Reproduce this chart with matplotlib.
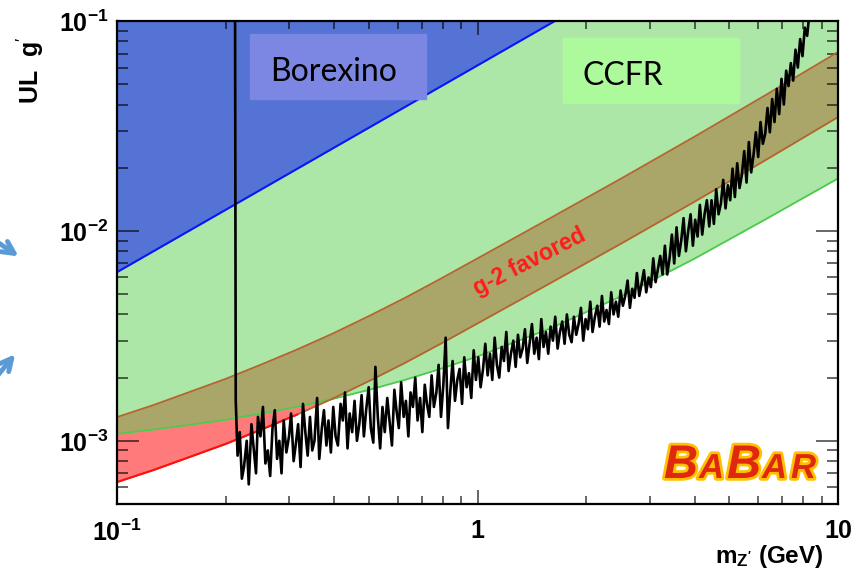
import numpy as np
import matplotlib
matplotlib.use("Agg")
import matplotlib.pyplot as plt
import matplotlib.patheffects as pe
from matplotlib.patches import Rectangle, FancyArrowPatch
from matplotlib.ticker import LogLocator, NullFormatter

plt.rcParams['mathtext.fontset'] = 'custom'
plt.rcParams['mathtext.rm'] = 'Liberation Sans'
plt.rcParams['mathtext.bf'] = 'Liberation Sans:bold'
plt.rcParams['mathtext.it'] = 'Liberation Sans:italic'

# ---- limit curves (mass in GeV, coupling g') ----
mass = [0.1, 0.126, 0.158, 0.2, 0.251, 0.316, 0.398, 0.501, 0.631, 0.794, 1,
        1.585, 2.512, 3.981, 6.31, 10]
g2_upper = [1.297e-3, 1.479e-3, 1.702e-3, 1.972e-3, 2.307e-3, 2.723e-3, 3.251e-3, 3.936e-3,
            4.808e-3, 5.943e-3, 7.396e-3, 1.146e-2, 1.782e-2, 2.799e-2, 4.446e-2, 7.112e-2]
g2_lower = [6.36e-4, 7.25e-4, 8.34e-4, 9.66e-4, 1.130e-3, 1.334e-3, 1.593e-3, 1.929e-3,
            2.356e-3, 2.912e-3, 3.624e-3, 5.615e-3, 8.73e-3, 1.371e-2, 2.179e-2, 3.485e-2]
ccfr = [1.079e-3, 1.130e-3, 1.189e-3, 1.259e-3, 1.346e-3, 1.452e-3, 1.585e-3, 1.750e-3,
        1.954e-3, 2.208e-3, 2.523e-3, 3.420e-3, 4.898e-3, 7.345e-3, 1.138e-2, 1.778e-2]
borexino_m = [0.1, 1.64]
borexino_g = [6.36e-3, 0.1]

# ---- BaBar upper limit scan (g' in units of 1e-3) ----
babar_m = [
    0.2125, 0.2135, 0.216, 0.219, 0.222, 0.225, 0.229, 0.232, 0.236, 0.239, 0.243, 0.246, 0.25,
    0.254, 0.258, 0.262, 0.266, 0.27, 0.274, 0.278, 0.282, 0.286, 0.29, 0.295, 0.3,
    0.304, 0.309, 0.313, 0.318, 0.323, 0.328, 0.333, 0.338, 0.343, 0.348,
    0.353, 0.359, 0.364, 0.37, 0.375, 0.381, 0.386, 0.392, 0.398, 0.404,
    0.41, 0.417, 0.423, 0.429, 0.436, 0.442, 0.449, 0.456, 0.463, 0.47,
    0.477, 0.484, 0.491, 0.499, 0.506, 0.514, 0.521, 0.529, 0.537, 0.545,
    0.553, 0.562, 0.57, 0.579, 0.588, 0.596, 0.605, 0.614, 0.624, 0.633,
    0.643, 0.652, 0.662, 0.672, 0.682, 0.693, 0.703, 0.714, 0.724, 0.735,
    0.746, 0.757, 0.769, 0.78, 0.792, 0.804, 0.816, 0.828, 0.841, 0.853,
    0.866, 0.879, 0.892, 0.906, 0.919, 0.933, 0.947, 0.961, 0.976, 0.99,
    1.005, 1.02, 1.036, 1.051, 1.067, 1.083, 1.099, 1.116, 1.132, 1.149,
    1.167, 1.184, 1.202, 1.22, 1.238, 1.257, 1.276, 1.295, 1.314, 1.334,
    1.354, 1.374, 1.395, 1.416, 1.437, 1.459, 1.48, 1.503, 1.525, 1.548,
    1.571, 1.595, 1.619, 1.643, 1.668, 1.693, 1.718, 1.744, 1.77, 1.797,
    1.824, 1.851, 1.879, 1.907, 1.936, 1.965, 1.994, 2.024, 2.055, 2.085,
    2.117, 2.149, 2.181, 2.214, 2.247, 2.28, 2.315, 2.349, 2.385, 2.421,
    2.457, 2.494, 2.531, 2.569, 2.608, 2.647, 2.687, 2.727, 2.768, 2.81,
    2.852, 2.895, 2.938, 2.982, 3.027, 3.073, 3.119, 3.166, 3.213, 3.261,
    3.31, 3.36, 3.41, 3.461, 3.513, 3.566, 3.62, 3.674, 3.729, 3.785,
    3.842, 3.9, 3.958, 4.017, 4.078, 4.139, 4.201, 4.264, 4.328, 4.393,
    4.459, 4.526, 4.594, 4.663, 4.733, 4.804, 4.876, 4.949, 5.023, 5.099,
    5.175, 5.253, 5.332, 5.412, 5.493, 5.575, 5.659, 5.744, 5.83, 5.918,
    6.006, 6.097, 6.188, 6.281, 6.375, 6.471, 6.568, 6.666, 6.766, 6.868, 6.971, 7.076,
    7.182, 7.29, 7.399, 7.51, 7.623, 7.737, 7.853, 7.971, 8.09, 8.212, 8.335, 8.46]
babar_g = [
    150, 1.55, 0.85, 1.1, 0.66, 0.75, 1.0, 0.62, 1.2, 0.95, 0.7, 1.3, 1.05,
    1.45, 0.78, 0.9, 0.68, 1.15, 1.4, 0.82, 1.0, 0.7, 1.25, 0.88, 1.05,
    1.35, 0.8, 0.95, 1.2, 0.75, 1.5, 1.1, 0.85, 1.3, 0.9,
    1.0, 1.6, 0.82, 1.15, 1.4, 0.95, 1.25, 0.88, 1.45, 1.05,
    0.95, 1.5, 1.25, 1.7, 0.92, 1.35, 1.1, 1.55, 1.0, 1.2,
    1.65, 1.05, 1.4, 1.8, 1.15, 0.98, 2.25, 1.3, 0.92, 1.45,
    1.1, 1.6, 1.25, 0.95, 1.75, 1.4, 1.15, 1.9, 1.3, 1.55,
    1.05, 1.7, 1.45, 2.0, 1.25, 1.6, 1.1, 1.85, 1.5, 1.3,
    2.05, 1.45, 1.7, 2.3, 1.3, 1.85, 3.1, 1.15, 1.75, 2.4,
    1.55, 1.95, 2.2, 1.5, 2.5, 1.8, 2.1, 1.6, 2.7, 1.95,
    2.5, 1.8, 2.2, 2.9, 2.05, 2.6, 1.95, 3.1, 2.3, 2.0,
    2.8, 2.4, 3.3, 2.15, 2.6, 3.0, 2.25, 3.2, 2.5, 2.75,
    3.4, 2.35, 2.9, 3.6, 2.6, 3.1, 2.45, 3.8, 2.8, 3.3,
    2.6, 3.5, 3.0, 3.9, 2.75, 3.3, 3.7, 2.9, 4.0, 3.2,
    2.95, 3.9, 3.2, 3.6, 4.3, 3.0, 3.8, 3.4, 4.6, 3.3,
    3.9, 4.4, 3.5, 4.9, 3.7, 4.2, 3.6, 5.1, 4.0, 4.6,
    3.9, 5.2, 4.4, 4.9, 5.8, 4.3, 5.3, 4.8, 6.3, 4.9,
    5.6, 6.5, 5.1, 6.0, 5.4, 7.4, 5.7, 6.6, 7.6, 6.2,
    8.5, 6.2, 7.4, 9.6, 7.0, 10.4, 7.6, 9.0, 11.5, 8.0,
    10.0, 12.0, 8.5, 11.3, 9.4, 13.3, 9.6, 12.0, 14.0, 10.5,
    14.0, 10.8, 15.8, 12.0, 13.5, 17.5, 12.8, 16.5, 14.0, 19.8,
    14.5, 21.0, 16.0, 18.5, 24.0, 17.0, 26.5, 19.0, 23.0, 29.5,
    22.5, 33.0, 26.0, 29.0, 38.5, 29.5, 42.5, 33.0, 47.5, 36.0, 53.0, 40.0,
    58.0, 49.0, 63.0, 52.0, 73.0, 60.0, 82.0, 68.0, 93.0, 85.0, 110, 125]

W, H = 867, 572
def fx(px):
    return px / W
def fy(py):
    return 1 - py / H

fig = plt.figure(figsize=(8.67, 5.72), dpi=100)
ax = fig.add_axes([fx(117), fy(504), fx(838) - fx(117), fy(21) - fy(504)])
ax.set_xscale('log')
ax.set_yscale('log')
ax.set_xlim(0.1, 10)
ax.set_ylim(5e-4, 0.1)

m = np.array(mass)
up = np.array(g2_upper)
lo = np.array(g2_lower)
cc = np.array(ccfr)

# regions
ax.fill_between(m, cc, 0.2, color='#ade7a8', lw=0, zorder=1)
ax.fill_between(m, lo, cc, where=lo < cc, interpolate=True, color='#ff7b7b', lw=0, zorder=1.2)
ax.fill_between(m, np.maximum(lo, cc), up, color='#aaa66a', lw=0, zorder=1.2)
ax.fill_between(borexino_m, borexino_g, 0.2, color='#5473d4', lw=0, zorder=1.4)

# boundary lines
ax.plot(m, cc, color='#4ccb4c', lw=1.3, zorder=2)
ax.plot(m, up, color='#b5642d', lw=1.3, zorder=2)
ax.plot(m, lo, color='#b5642d', lw=1.3, zorder=2)
ax.plot(m, np.where(lo <= cc, lo, np.nan), color='#ff1010', lw=1.5, zorder=2.1)
ax.plot(borexino_m, borexino_g, color='#0a14ff', lw=1.5, zorder=2)

# BaBar limit
ax.plot(babar_m, np.array(babar_g) * 1e-3, color='black', lw=1.9, zorder=5)

ax.text(1.39, 7.1e-3, 'g-2 favored', color='#ff1a1a', fontsize=16.5, fontweight='bold',
        family='Liberation Sans', rotation=27, rotation_mode='anchor',
        ha='center', va='center', zorder=4)

# ticks
ax.set_xticks([0.1, 1, 10])
ax.set_xticklabels([r'$\mathbf{10^{-1}}$', r'$\mathbf{1}$', r'$\mathbf{10}$'])
ax.set_yticks([1e-3, 1e-2, 1e-1])
ax.set_yticklabels([r'$\mathbf{10^{-3}}$', r'$\mathbf{10^{-2}}$', r'$\mathbf{10^{-1}}$'])
for axis in (ax.xaxis, ax.yaxis):
    axis.set_minor_locator(LogLocator(base=10, subs=np.arange(2, 10)))
    axis.set_minor_formatter(NullFormatter())
tc = (0, 0, 0, 0.6)
ax.tick_params(which='both', direction='in', top=True, right=True, color=tc, width=1.4,
               labelsize=18, zorder=6)
ax.xaxis.set_tick_params(which='major', length=10, pad=11)
ax.xaxis.set_tick_params(which='minor', length=6)
ax.yaxis.set_tick_params(which='major', length=16, pad=6)
ax.yaxis.set_tick_params(which='minor', length=8)
for s in ax.spines.values():
    s.set_linewidth(1.6)
    s.set_zorder(6)

# axis titles
fig.text(fx(823), fy(557), r"m$_{\mathbf{Z'}}$ (GeV)", fontsize=17.5, fontweight='bold',
         family='Liberation Sans', ha='right', va='center')
fig.text(fx(30), fy(70), r"UL  g$'$", fontsize=18, fontweight='bold',
         family='Liberation Sans', rotation=90, ha='center', va='center')

# legend boxes
fig.patches.append(Rectangle((fx(250), fy(99)), fx(426) - fx(250), fy(34) - fy(99),
                             transform=fig.transFigure, color='#7b87e3', zorder=3))
fig.text(fx(270), fy(81), 'Borexino', fontsize=23, family='Lato', color='black',
         ha='left', va='baseline', zorder=4)
fig.patches.append(Rectangle((fx(563), fy(103)), fx(739) - fx(563), fy(38) - fy(103),
                             transform=fig.transFigure, color='#adfa9c', zorder=3))
fig.text(fx(582), fy(85), 'CCFR', fontsize=23, family='Lato', color='black',
         ha='left', va='baseline', zorder=4)

# BaBar logo
logo = [('B', 664, 34), ('A', 699, 25), ('B', 727, 34), ('A', 762, 25), ('R', 791, 25)]
for ch, xp, fs in logo:
    fig.text(fx(xp), fy(478), ch, fontsize=fs, fontweight='bold', fontstyle='italic',
             family='Liberation Sans', color='#e0280e', ha='left', va='baseline',
             path_effects=[pe.withStroke(linewidth=4, foreground='#ffc000')], zorder=7)

# partial arrows at the left margin
for (x0, y0), (x1, y1) in [((-22, 229), (21, 258)), ((-16, 392), (17, 352))]:
    fig.patches.append(FancyArrowPatch((fx(x0), fy(y0)), (fx(x1), fy(y1)),
                                       transform=fig.transFigure, arrowstyle='->',
                                       mutation_scale=22, lw=3.5, color='#5b9bd5'))

fig.savefig('out.png', dpi=100)
